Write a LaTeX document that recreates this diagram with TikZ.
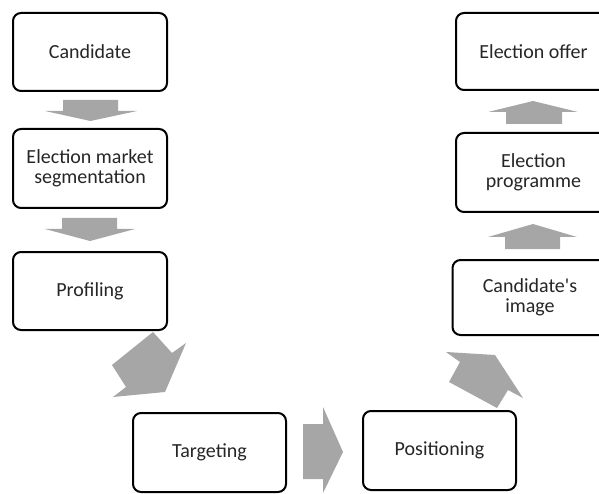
\documentclass[tikz,border=0pt]{standalone}
\usepackage{fontspec}
\setmainfont{Carlito}[Ligatures=TeXOff]
\definecolor{arrowgray}{RGB}{166,166,166}
\definecolor{txt}{RGB}{38,38,38}
\tikzset{
  stagebox/.style={draw=black, line width=2pt, rounded corners=8pt, fill=white,
    align=center, text=txt, inner sep=2pt, font=\fontsize{20}{20}\selectfont},
  blockarrow/.style={fill=arrowgray, draw=none}
}
\begin{document}
\begin{tikzpicture}[x=1pt,y=-1pt]
\useasboundingbox (0,0) rectangle (599,494);
\clip (0,0) rectangle (599,494);
% boxes
\node[stagebox, minimum width=154pt, minimum height=78pt] (cand) at (90,52) {Candidate};
\node[stagebox, minimum width=154pt, minimum height=79pt] (seg) at (90,168.5) {Election market\\segmentation};
\node[stagebox, minimum width=154pt, minimum height=78pt] (prof) at (90,291) {Profiling};
\node[stagebox, minimum width=153pt, minimum height=79pt] (targ) at (209.5,452.5) {Targeting};
\node[stagebox, minimum width=153pt, minimum height=79pt] (pos) at (439.5,450.5) {Positioning};
\node[stagebox, minimum width=155pt, minimum height=75pt] (img) at (530,297.5) {Candidate's\\image};
\node[stagebox, minimum width=155pt, minimum height=79pt] (prog) at (533.5,172.5) {Election\\programme};
\node[stagebox, minimum width=155pt, minimum height=77pt] (offer) at (533.5,51.5) {Election offer};
% block arrows
\fill[blockarrow] (63,100) -- (118,100) -- (118,111) -- (137,111) -- (90.5,121) -- (45,111) -- (63,111) -- cycle;
\fill[blockarrow] (62,218) -- (117,218) -- (117,229) -- (135,229) -- (90,241) -- (45,229) -- (62,229) -- cycle;
\fill[blockarrow] (153,332) -- (172,353) -- (186,343) -- (165,392) -- (113,397) -- (126,387) -- (112,365) -- cycle;
\fill[blockarrow] (303,424) -- (323,424) -- (323,407) -- (343,452) -- (323,493) -- (323,479) -- (303,479) -- cycle;
\fill[blockarrow] (449,382) -- (460,362) -- (446,352) -- (495,355) -- (523,398) -- (508,390) -- (497,408) -- cycle;
\fill[blockarrow] (505,249) -- (505,237) -- (488,237) -- (533,224) -- (577,237) -- (560,237) -- (560,249) -- cycle;
\fill[blockarrow] (506,124) -- (506,112) -- (488,112) -- (533,101) -- (578,112) -- (562,112) -- (562,124) -- cycle;
\end{tikzpicture}
\end{document}
